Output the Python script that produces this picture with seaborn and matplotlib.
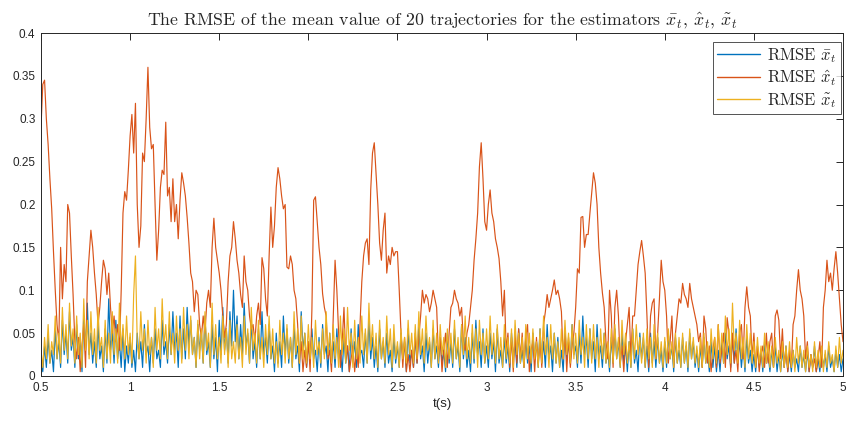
import numpy as np
import pandas as pd
import seaborn as sns
import matplotlib
matplotlib.use("Agg")
import matplotlib.pyplot as plt
from matplotlib.ticker import FuncFormatter

# time grid: 0.5 s to 5 s, 10 ms steps
t_start, t_stop, t_step = 0.5, 5.0, 0.01

# RMSE of x-bar estimator (thousandths)
rmse_bar_milli = [
    20, 5, 35, 10, 45, 15, 30, 5, 55, 20,
    40, 10, 65, 25, 50, 15, 75, 30, 45, 10,
    60, 20, 45, 5, 70, 30, 85, 25, 50, 15,
    40, 10, 60, 20, 35, 5, 55, 15, 90, 30,
    50, 15, 65, 20, 40, 10, 55, 5, 35, 15,
    45, 10, 30, 5, 50, 20, 40, 10, 60, 25,
    35, 5, 45, 15, 55, 20, 30, 10, 65, 25,
    40, 15, 60, 25, 75, 30, 50, 10, 70, 20,
    55, 20, 80, 35, 65, 25, 45, 10, 60, 30,
    50, 15, 70, 25, 40, 10, 60, 20, 45, 5,
    65, 25, 80, 30, 55, 15, 75, 35, 100, 40,
    70, 20, 60, 25, 85, 35, 50, 15, 65, 20,
    40, 10, 55, 20, 75, 25, 45, 15, 60, 20,
    35, 5, 50, 15, 40, 10, 70, 25, 55, 15,
    45, 10, 60, 20, 35, 5, 75, 30, 50, 10,
    40, 15, 55, 20, 30, 5, 45, 10, 60, 25,
    35, 5, 50, 15, 40, 10, 55, 20, 30, 5,
    45, 15, 35, 5, 55, 20, 40, 10, 60, 25,
    30, 10, 50, 15, 65, 20, 45, 10, 35, 5,
    55, 20, 40, 10, 50, 15, 30, 5, 45, 15,
    35, 10, 50, 20, 40, 5, 55, 15, 30, 10,
    45, 15, 60, 20, 35, 5, 50, 15, 40, 10,
    55, 20, 35, 10, 45, 15, 30, 5, 50, 15,
    40, 10, 55, 20, 35, 5, 60, 20, 45, 10,
    30, 5, 50, 15, 65, 25, 40, 10, 55, 15,
    35, 10, 50, 20, 40, 5, 55, 15, 30, 10,
    45, 15, 35, 5, 50, 20, 40, 10, 55, 15,
    30, 10, 45, 15, 35, 5, 50, 20, 40, 10,
    55, 15, 40, 10, 60, 20, 35, 5, 50, 15,
    45, 10, 30, 5, 55, 20, 40, 15, 60, 25,
    35, 10, 50, 15, 70, 25, 45, 10, 55, 20,
    40, 5, 60, 20, 35, 10, 50, 15, 30, 5,
    45, 15, 55, 20, 40, 10, 50, 15, 35, 5,
    40, 10, 55, 15, 30, 5, 50, 20, 45, 10,
    35, 5, 50, 15, 40, 10, 45, 15, 30, 5,
    40, 10, 50, 20, 35, 5, 45, 15, 30, 10,
    45, 15, 35, 5, 50, 20, 40, 10, 30, 5,
    35, 10, 45, 15, 30, 5, 40, 10, 35, 5,
    30, 5, 40, 15, 50, 20, 35, 10, 45, 15,
    55, 20, 40, 10, 35, 5, 45, 15, 30, 5,
    25, 5, 35, 10, 30, 5, 40, 15, 25, 5,
    30, 10, 35, 5, 25, 5, 30, 10, 35, 5,
    25, 5, 30, 10, 20, 5, 35, 10, 25, 5,
    30, 5, 25, 10, 35, 5, 20, 5, 30, 10,
    25, 5, 35, 10, 20, 5, 30, 10, 25, 5,
    20,
]

# RMSE of x-hat estimator (thousandths)
rmse_hat_milli = [
    290, 340, 345, 300, 270, 230, 195, 145, 100, 60,
    40, 150, 90, 130, 110, 200, 190, 140, 95, 40,
    20, 45, 5, 35, 60, 10, 110, 140, 170, 150,
    120, 95, 60, 80, 110, 135, 125, 95, 120, 80,
    50, 70, 40, 60, 30, 100, 190, 215, 205, 240,
    280, 305, 260, 318, 200, 150, 175, 260, 250, 300,
    360, 290, 265, 270, 200, 135, 170, 220, 240, 235,
    296, 210, 220, 180, 230, 180, 200, 160, 205, 237,
    225, 210, 185, 155, 120, 110, 75, 100, 95, 60,
    45, 70, 50, 85, 100, 80, 150, 184, 150, 135,
    120, 100, 70, 45, 60, 110, 140, 150, 180, 160,
    135, 120, 95, 80, 140, 110, 100, 70, 55, 60,
    40, 70, 85, 60, 138, 125, 90, 70, 140, 197,
    150, 175, 220, 243, 230, 210, 195, 200, 127, 125,
    140, 130, 100, 90, 60, 15, 40, 5, 30, 10,
    40, 5, 77, 205, 209, 180, 150, 130, 96, 80,
    70, 20, 30, 5, 70, 135, 100, 50, 10, 40,
    80, 20, 35, 5, 20, 35, 5, 30, 10, 60,
    110, 140, 155, 160, 130, 217, 260, 272, 235, 200,
    155, 135, 170, 190, 120, 140, 130, 150, 140, 145,
    145, 100, 50, 10, 45, 5, 25, 5, 30, 10,
    50, 15, 45, 70, 100, 85, 95, 90, 75, 85,
    100, 90, 80, 20, 45, 5, 30, 50, 10, 50,
    80, 85, 100, 90, 85, 70, 80, 40, 30, 50,
    60, 80, 100, 135, 160, 190, 244, 272, 230, 180,
    170, 200, 217, 190, 180, 160, 150, 137, 110, 70,
    100, 30, 50, 10, 45, 5, 50, 15, 55, 20,
    50, 10, 45, 60, 5, 30, 40, 5, 45, 15,
    40, 10, 60, 75, 95, 80, 90, 100, 112, 95,
    100, 90, 75, 20, 50, 5, 45, 10, 35, 50,
    80, 125, 120, 185, 186, 150, 165, 165, 190, 213,
    237, 225, 200, 150, 120, 97, 80, 40, 20, 100,
    70, 10, 80, 100, 70, 15, 35, 5, 40, 60,
    80, 20, 70, 70, 100, 130, 145, 158, 140, 120,
    70, 10, 70, 85, 90, 20, 50, 90, 135, 110,
    100, 70, 15, 40, 70, 10, 50, 70, 90, 85,
    108, 95, 90, 80, 108, 90, 80, 70, 60, 40,
    50, 10, 70, 55, 15, 35, 5, 30, 45, 10,
    60, 15, 30, 50, 10, 68, 50, 5, 50, 15,
    30, 5, 50, 60, 20, 80, 104, 80, 70, 20,
    50, 10, 35, 5, 25, 35, 10, 50, 15, 40,
    50, 10, 70, 77, 65, 20, 55, 10, 30, 5,
    30, 10, 60, 70, 100, 124, 100, 90, 70, 20,
    40, 5, 25, 10, 20, 5, 20, 40, 10, 80,
    100, 135, 110, 120, 100, 125, 145, 120, 90, 60,
    40,
]

# RMSE of x-tilde estimator (thousandths)
rmse_tilde_milli = [
    30, 10, 45, 20, 60, 15, 40, 25, 70, 20,
    50, 15, 80, 30, 60, 20, 85, 35, 55, 15,
    70, 25, 50, 10, 90, 30, 65, 20, 75, 25,
    55, 15, 80, 30, 45, 10, 65, 20, 50, 15,
    75, 25, 55, 15, 85, 30, 60, 20, 70, 25,
    50, 15, 95, 140, 40, 20, 75, 30, 55, 15,
    65, 25, 45, 10, 80, 30, 55, 20, 90, 35,
    60, 20, 75, 25, 50, 15, 70, 30, 55, 15,
    80, 30, 60, 20, 70, 25, 45, 10, 65, 20,
    55, 15, 75, 30, 50, 10, 85, 25, 60, 20,
    45, 15, 70, 25, 55, 10, 65, 20, 40, 15,
    60, 20, 45, 10, 70, 25, 55, 15, 80, 30,
    50, 15, 65, 20, 45, 10, 60, 25, 70, 20,
    55, 15, 40, 10, 65, 25, 50, 15, 60, 20,
    45, 10, 75, 25, 55, 15, 70, 20, 50, 15,
    60, 20, 45, 10, 65, 25, 40, 15, 55, 20,
    75, 25, 50, 15, 60, 20, 45, 10, 70, 25,
    55, 15, 80, 30, 50, 10, 65, 20, 45, 15,
    70, 25, 55, 15, 85, 30, 60, 20, 50, 10,
    65, 20, 45, 15, 70, 25, 55, 10, 60, 20,
    40, 10, 55, 20, 45, 15, 65, 25, 50, 15,
    60, 20, 75, 25, 55, 15, 70, 30, 45, 10,
    65, 20, 50, 15, 60, 25, 45, 10, 55, 20,
    50, 15, 65, 20, 45, 10, 60, 25, 70, 20,
    45, 15, 60, 20, 55, 10, 65, 25, 50, 15,
    55, 20, 70, 25, 50, 15, 60, 20, 45, 10,
    60, 20, 45, 15, 55, 10, 65, 25, 50, 15,
    45, 10, 60, 20, 50, 15, 55, 20, 40, 10,
    55, 15, 70, 25, 45, 10, 60, 20, 50, 15,
    40, 10, 55, 20, 65, 25, 50, 15, 60, 20,
    50, 15, 65, 25, 45, 10, 60, 20, 55, 15,
    60, 20, 45, 10, 55, 20, 50, 15, 40, 10,
    55, 15, 60, 20, 45, 10, 65, 25, 50, 15,
    40, 10, 55, 20, 60, 25, 45, 15, 50, 10,
    55, 20, 45, 10, 60, 20, 50, 15, 40, 10,
    45, 15, 55, 20, 40, 10, 50, 15, 45, 10,
    50, 15, 40, 10, 55, 20, 45, 15, 35, 10,
    45, 10, 50, 15, 40, 10, 55, 20, 45, 15,
    60, 20, 50, 15, 70, 25, 55, 15, 85, 30,
    50, 15, 65, 20, 45, 10, 60, 20, 50, 15,
    40, 10, 45, 15, 35, 10, 50, 15, 40, 10,
    35, 10, 45, 15, 30, 5, 40, 10, 35, 10,
    40, 10, 30, 5, 45, 15, 35, 10, 30, 5,
    35, 10, 25, 5, 40, 10, 30, 10, 35, 5,
    30, 10, 40, 15, 25, 5, 35, 10, 45, 15,
    30,
]

labels = [r"RMSE $\bar{x}_t$", r"RMSE $\hat{x}_t$", r"RMSE $\tilde{x}_t$"]
colors = ["#0072BD", "#D95319", "#EDB120"]
x_ticks = [0.5, 1, 1.5, 2, 2.5, 3, 3.5, 4, 4.5, 5]
y_ticks = [0, 0.05, 0.1, 0.15, 0.2, 0.25, 0.3, 0.35, 0.4]

sns.set_style("white")
plt.rcParams["font.family"] = ["Liberation Sans", "DejaVu Sans"]
plt.rcParams["mathtext.fontset"] = "cm"

n = len(rmse_hat_milli)
t = np.round(t_start + t_step * np.arange(n), 4)
df = pd.DataFrame({
    "t": t,
    "bar": np.array(rmse_bar_milli) / 1000.0,
    "hat": np.array(rmse_hat_milli) / 1000.0,
    "tilde": np.array(rmse_tilde_milli) / 1000.0,
})

fig = plt.figure(figsize=(8.47, 4.24), dpi=100)
ax = fig.add_axes([41 / 847, 1 - 376 / 424, 802 / 847, 343 / 424])

for col, lab, c in zip(["bar", "hat", "tilde"], labels, colors):
    sns.lineplot(data=df, x="t", y=col, ax=ax, color=c, linewidth=0.85,
                 label=lab, estimator=None, sort=False)

ax.set_xlim(0.5, 5)
ax.set_ylim(0, 0.4)
ax.set_xticks(x_ticks)
ax.set_yticks(y_ticks)
ax.xaxis.set_major_formatter(FuncFormatter(lambda v, p: f"{v:g}"))
ax.yaxis.set_major_formatter(FuncFormatter(lambda v, p: f"{v:g}"))
ax.tick_params(direction="in", length=5, width=0.7, colors="#262626",
               labelsize=8.5, top=True, right=True, pad=4)
for s in ax.spines.values():
    s.set_color("#262626")
    s.set_linewidth(0.7)

ax.set_xlabel("t(s)", fontsize=9.5, color="#262626", labelpad=3)
ax.set_ylabel("")
ax.set_title(r"The RMSE of the mean value of 20 trajectories for the estimators "
             r"$\bar{x}_t$, $\hat{x}_t$, $\tilde{x}_t$",
             fontsize=12.8, family="cmr10", pad=6)

leg = ax.legend(loc="upper right", bbox_to_anchor=(0.9975, 0.974),
                frameon=True, fancybox=False, borderaxespad=0.0,
                borderpad=0.25, handlelength=2.6, handletextpad=0.4,
                labelspacing=0.2, prop={"family": "cmr10", "size": 12})
leg.get_frame().set_edgecolor("#262626")
leg.get_frame().set_linewidth(0.7)
for h in leg.get_lines():
    h.set_linewidth(1.0)

fig.savefig("out.png", dpi=100)
